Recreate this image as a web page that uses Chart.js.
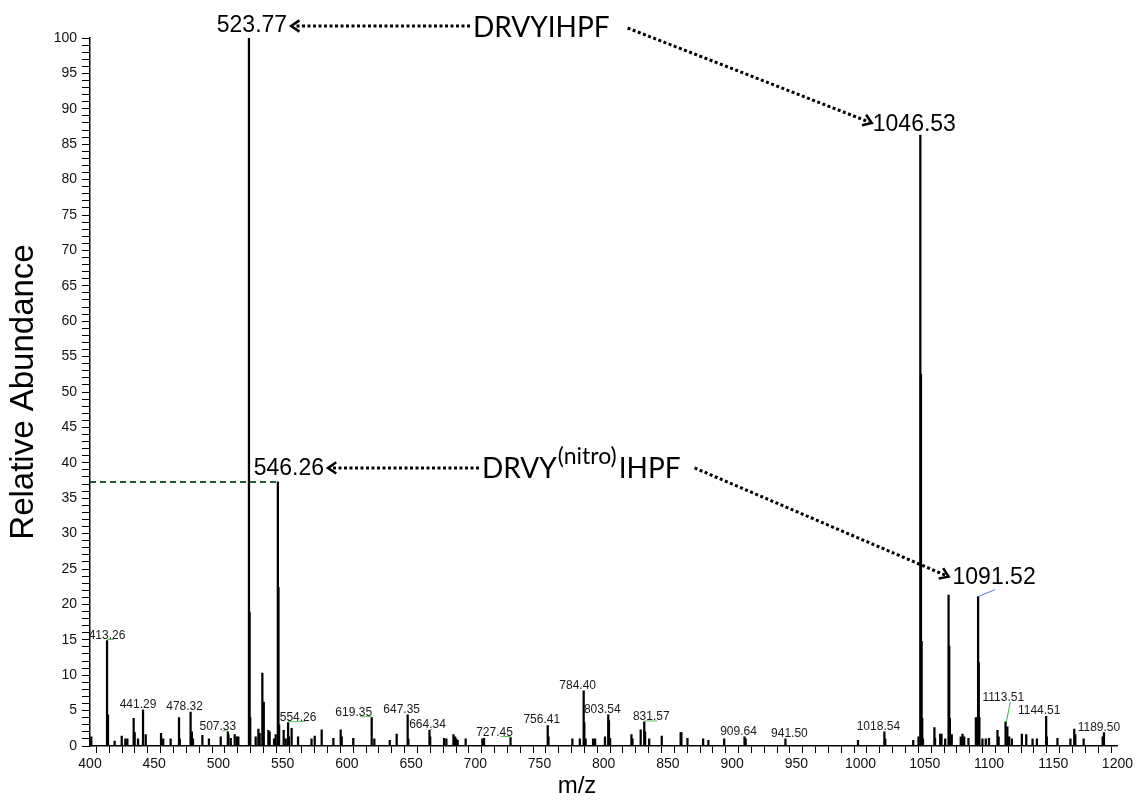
<!DOCTYPE html>
<html>
<head>
<meta charset="utf-8">
<script src="https://cdn.jsdelivr.net/npm/chart.js@4.4.1/dist/chart.umd.min.js"></script>
<style>
  html, body { margin: 0; padding: 0; background: #fff; }
</style>
</head>
<body>
<canvas id="spec" width="1136" height="801"></canvas>
<script>
// peak list (m/z, relative abundance %)
const mz = [
  401.0, 413.26, 414.0, 419.2, 424.7, 427.5, 429.1, 434.0, 434.8, 437.4,
  441.29, 443.4, 455.3, 457.0, 462.8, 469.3, 469.9, 478.32, 479.3, 480.2,
  487.5, 492.6, 501.8, 507.33, 507.8, 509.6, 512.7, 514.5, 515.5,
  523.77, 524.27, 524.77, 529.0, 531.1, 532.1, 534.2, 535.3, 538.9, 539.9,
  543.3, 544.6, 546.26, 546.76, 547.26, 550.8, 552.4, 554.26, 554.9, 557.0,
  562.0, 572.5, 575.0, 580.4, 589.5, 595.2, 596.0, 605.0, 619.35, 621.4,
  633.4, 638.8, 647.35, 647.9, 664.34, 664.9, 675.7, 677.5, 683.0, 684.3,
  685.2, 686.3, 692.5, 705.5, 706.8, 727.45, 756.41, 757.0, 775.6, 781.4,
  784.40, 784.9, 785.9, 791.7, 793.3, 801.0, 803.54, 804.1, 805.0, 821.6,
  822.4, 828.8, 831.57, 832.2, 835.4, 845.2, 859.9, 860.5, 865.2, 877.4,
  881.5, 893.8, 909.64, 910.5, 941.50, 998.0, 1018.54, 1019.2, 1041.0, 1045.1,
  1046.53, 1047.03, 1047.53, 1048.03, 1048.6, 1057.5, 1058.0, 1062.0, 1063.0, 1065.9,
  1068.52, 1069.02, 1069.52, 1071.0, 1078.0, 1079.4, 1080.7, 1084.0, 1089.8, 1090.9,
  1091.52, 1092.02, 1092.52, 1094.9, 1097.5, 1100.0, 1106.6, 1107.5, 1112.9, 1114.3,
  1115.7, 1117.8, 1125.6, 1129.0, 1133.9, 1137.3, 1144.51, 1145.0, 1153.3, 1163.4,
  1166.4, 1167.2, 1173.7, 1188.5, 1189.50
];
const abundance = [
  1.3, 14.9, 4.4, 0.7, 1.4, 1.0, 1.0, 3.9, 1.9, 1.0,
  5.1, 1.6, 1.8, 1.0, 1.0, 4.0, 1.0, 4.8, 2.0, 1.0,
  1.5, 1.0, 1.3, 2.0, 1.6, 1.1, 1.6, 1.3, 1.3,
  100, 18.9, 4.0, 1.3, 2.4, 1.8, 10.3, 6.2, 2.2, 2.0,
  1.0, 1.6, 37.3, 22.4, 3.0, 2.2, 1.0, 3.3, 1.3, 2.5,
  1.3, 1.0, 1.4, 2.3, 1.1, 2.3, 1.3, 1.1, 4.0, 1.0,
  0.8, 1.7, 4.4, 1.0, 2.2, 1.3, 1.1, 1.0, 1.6, 1.3,
  1.0, 0.8, 1.0, 1.0, 1.1, 1.2, 2.9, 1.3, 1.0, 1.0,
  7.8, 3.3, 1.0, 1.0, 1.0, 1.3, 4.4, 3.6, 1.1, 1.6,
  1.0, 2.3, 3.4, 2.0, 1.0, 1.4, 1.9, 1.9, 1.1, 1.0,
  0.8, 1.0, 1.3, 1.0, 1.0, 0.8, 2.0, 1.0, 0.8, 1.3,
  86.3, 52.5, 14.8, 3.9, 1.0, 2.6, 1.1, 1.7, 1.7, 1.0,
  21.3, 14.1, 3.9, 1.6, 1.3, 1.7, 1.3, 1.1, 4.0, 4.0,
  21.1, 11.8, 4.0, 1.0, 1.0, 1.1, 2.2, 1.3, 3.4, 2.7,
  1.3, 1.0, 1.7, 1.6, 1.0, 1.0, 4.2, 1.3, 1.1, 1.0,
  2.4, 1.6, 1.0, 1.3, 1.9
];
// centroid labels printed above peaks
const smallLabels = ['413.26','441.29','478.32','507.33','554.26','619.35','647.35','664.34',
  '727.45','756.41','784.40','803.54','831.57','909.64','941.50','1018.54','1113.51','1144.51','1189.50'];
const bigLabels = ['523.77', '546.26', '1046.53', '1091.52'];
const peptides = ['DRVYIHPF', 'DRVY', '(nitro)', 'IHPF'];
const xTicks = { min: 400, max: 1200, step: 50, minor: 10 };
const yTicks = { min: 0, max: 100, step: 5, minor: 1 };

const FONT = "'Liberation Sans', Arial, sans-serif";
const PEP_FONT = 'Lato, "Open Sans", sans-serif';

// layout tweaks for the hand-placed annotations (px)
const smallShift = { '413.26':[0,7], '441.29':[-5,0], '478.32':[-6,0], '507.33':[-10,-6],
  '554.26':[10,17], '619.35':[-18,-12], '647.35':[-6,0], '664.34':[-2,3], '727.45':[-16,-10],
  '756.41':[-6,0], '784.40':[-6,0], '803.54':[-6,0], '831.57':[7,13], '909.64':[-6,0],
  '941.50':[4,0], '1018.54':[-6,0], '1113.51':[-3,0], '1144.51':[-7,0], '1189.50':[-5,0] };
const bigShift = { '523.77':[3,-12], '546.26':[11,-13], '1046.53':[-6,-10], '1091.52':[16,-19] };

function topNear(m) {
  let best = 0;
  mz.forEach((v, i) => { if (Math.abs(v - m) < 0.7) best = Math.max(best, abundance[i]); });
  return best;
}

function dotted(ctx, x1, y1, x2, y2) {
  ctx.save();
  ctx.strokeStyle = '#000';
  ctx.lineWidth = 3;
  ctx.setLineDash([3, 2.5]);
  const a = Math.atan2(y2 - y1, x2 - x1);
  ctx.beginPath();
  ctx.moveTo(x1, y1);
  ctx.lineTo(x2 - 3 * Math.cos(a), y2 - 3 * Math.sin(a));
  ctx.stroke();
  ctx.setLineDash([]);
  ctx.lineWidth = 2.5;
  ctx.beginPath();
  ctx.moveTo(x2 - 10 * Math.cos(a - 0.6), y2 - 10 * Math.sin(a - 0.6));
  ctx.lineTo(x2, y2);
  ctx.lineTo(x2 - 10 * Math.cos(a + 0.6), y2 - 10 * Math.sin(a + 0.6));
  ctx.stroke();
  ctx.restore();
}

const annotate = {
  id: 'annotate',
  afterDatasetsDraw(chart) {
    const { ctx, scales: { x, y } } = chart;
    ctx.save();

    // dashed guide at the nitro peak height
    const nitroTop = topNear(546.26);
    ctx.strokeStyle = '#1f5a32';
    ctx.lineWidth = 2;
    ctx.setLineDash([6, 4]);
    ctx.beginPath();
    ctx.moveTo(x.left, y.getPixelForValue(nitroTop));
    ctx.lineTo(x.getPixelForValue(546.26), y.getPixelForValue(nitroTop));
    ctx.stroke();
    ctx.setLineDash([]);

    // small centroid labels
    ctx.font = '12px ' + FONT;
    ctx.fillStyle = '#1a1a1a';
    ctx.textAlign = 'center';
    ctx.textBaseline = 'alphabetic';
    smallLabels.forEach(t => {
      const m = parseFloat(t);
      const [dx, lead] = smallShift[t];
      const px = x.getPixelForValue(m);
      const py = y.getPixelForValue(topNear(m));
      if (t === '1113.51') {
        ctx.fillText(t, px + dx, py - 21);
        ctx.strokeStyle = '#3cb043';
        ctx.lineWidth = 1;
        ctx.beginPath(); ctx.moveTo(px, py); ctx.lineTo(px + 4, py - 20); ctx.stroke();
        return;
      }
      ctx.fillText(t, px + dx, py - 2);
      if (lead) {
        ctx.strokeStyle = '#5cc35c';
        ctx.lineWidth = 1;
        ctx.beginPath(); ctx.moveTo(px, py - 1); ctx.lineTo(px + lead, py - 1); ctx.stroke();
      }
    });

    // big labels
    ctx.font = '23px ' + FONT;
    ctx.fillStyle = '#000';
    ctx.textBaseline = 'middle';
    const box = {};
    bigLabels.forEach(t => {
      const m = parseFloat(t);
      const [dx, dy] = bigShift[t];
      const cx = x.getPixelForValue(m) + dx;
      const cy = y.getPixelForValue(topNear(m)) + dy;
      ctx.fillText(t, cx, cy);
      const w = ctx.measureText(t).width;
      box[t] = { l: cx - w / 2, r: cx + w / 2, y: cy };
    });
    // blue leader for 1091.52
    const p91 = x.getPixelForValue(1091.52), t91 = y.getPixelForValue(topNear(1091.52));
    ctx.strokeStyle = '#4a7fd0';
    ctx.lineWidth = 1;
    ctx.beginPath(); ctx.moveTo(p91, t91); ctx.lineTo(p91 + 17, t91 - 7); ctx.stroke();

    // peptide names
    ctx.textAlign = 'left';
    ctx.textBaseline = 'alphabetic';
    ctx.font = '28px ' + PEP_FONT;
    const n1x = x.getPixelForValue(xTicks.min) + 383;
    const n1y = box['523.77'].y + 11;
    ctx.fillText(peptides[0], n1x, n1y);
    const n1w = ctx.measureText(peptides[0]).width;

    const n2x = n1x + 9;
    const n2y = box['546.26'].y + 9;
    ctx.fillText(peptides[1], n2x, n2y);
    let w2 = ctx.measureText(peptides[1]).width;
    ctx.font = '23px ' + PEP_FONT;
    ctx.fillText(peptides[2], n2x + w2 + 1, n2y - 14);
    w2 += ctx.measureText(peptides[2]).width + 3;
    ctx.font = '28px ' + PEP_FONT;
    ctx.fillText(peptides[3], n2x + w2, n2y);
    w2 += ctx.measureText(peptides[3]).width;

    // dotted arrows
    const b1 = box['523.77'], b2 = box['1046.53'], b3 = box['546.26'], b4 = box['1091.52'];
    dotted(ctx, n1x - 3, b1.y, b1.r + 4, b1.y);
    dotted(ctx, n1x + n1w + 18, b1.y + 2, b2.l - 1, b2.y - 2);
    dotted(ctx, n2x - 3, b3.y - 1, b3.r + 4, b3.y - 1);
    dotted(ctx, n2x + w2 + 14, b3.y - 1, b4.l - 4, b4.y - 1);

    ctx.restore();
  }
};

const points = mz.map((m, i) => ({ x: m, y: abundance[i] }));

new Chart(document.getElementById('spec'), {
  type: 'bar',
  data: {
    datasets: [{
      data: points,
      backgroundColor: '#000',
      borderWidth: 0,
      barThickness: 1.6
    }]
  },
  options: {
    responsive: false,
    animation: false,
    layout: { padding: { top: 38, right: 18, bottom: 0, left: 0 } },
    plugins: { legend: { display: false }, tooltip: { enabled: false } },
    scales: {
      x: {
        type: 'linear',
        min: xTicks.min,
        max: xTicks.max,
        offset: false,
        border: { color: '#000', width: 1.5 },
        grid: { drawOnChartArea: false, tickLength: 7, tickColor: '#000', tickWidth: 1 },
        ticks: {
          count: (xTicks.max - xTicks.min) / xTicks.minor + 1,
          autoSkip: false,
          maxRotation: 0,
          padding: 3,
          color: '#111',
          font: { family: FONT, size: 14 },
          callback: v => Math.round(v) % xTicks.step === 0 ? String(Math.round(v)) : ''
        },
        title: { display: true, text: 'm/z        ', color: '#000', font: { family: FONT, size: 24 }, padding: 0 },
        afterFit: s => { s.height = 55; }
      },
      y: {
        min: yTicks.min,
        max: yTicks.max,
        border: { color: '#000', width: 1.5 },
        grid: { drawOnChartArea: false, tickLength: 8, tickColor: '#000', tickWidth: 1 },
        ticks: {
          count: (yTicks.max - yTicks.min) / yTicks.minor + 1,
          autoSkip: false,
          padding: 5,
          color: '#111',
          font: { family: FONT, size: 14 },
          callback: v => Math.round(v) % yTicks.step === 0 ? String(Math.round(v)) : ' '
        },
        title: { display: true, text: 'Relative Abundance', color: '#000', font: { family: FONT, size: 33 }, padding: { top: 4, bottom: 0 } },
        afterFit: s => { s.width = 90; }
      }
    }
  },
  plugins: [annotate]
});
</script>
</body>
</html>
